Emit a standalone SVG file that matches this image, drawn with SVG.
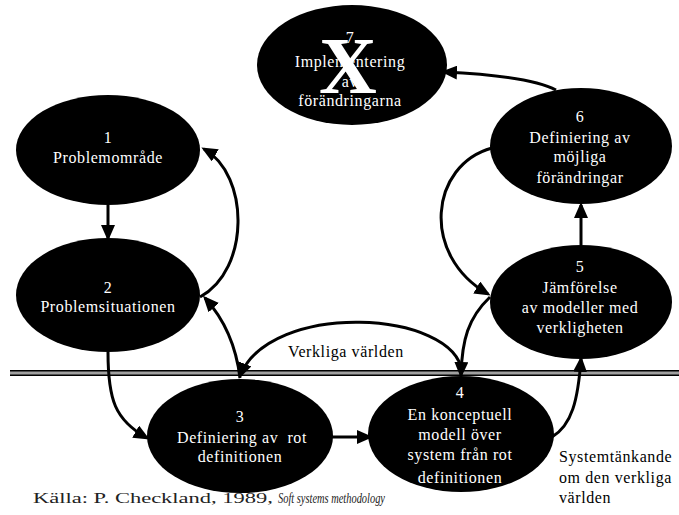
<svg xmlns="http://www.w3.org/2000/svg" width="679" height="515" viewBox="0 0 679 515">
  <style>
    .node { fill: #000; }
    .lbl { font-size: 16px; letter-spacing: 0.6px; fill: #fff; text-anchor: middle; }
    .side { font-size: 16px; letter-spacing: 0.6px; fill: #000; }
    .edge { fill: none; stroke: #000; stroke-width: 3; }
    .cap { font-size: 14px; fill: #222; }
  </style>
  <defs>
    <marker id="arrow" viewBox="0 0 16 14" refX="13" refY="7" markerWidth="16" markerHeight="14" markerUnits="userSpaceOnUse" orient="auto">
      <path d="M0,0 L16,7 L0,14 z" fill="#000"/>
    </marker>
  </defs>

  <rect width="679" height="515" fill="#fff"/>

  <!-- boundary between the real world and systems thinking -->
  <g id="boundary">
    <rect x="10" y="370" width="669" height="6" fill="#a0a0a0"/>
    <line x1="10" y1="370.75" x2="679" y2="370.75" stroke="#000" stroke-width="1.5"/>
    <line x1="10" y1="375.25" x2="679" y2="375.25" stroke="#000" stroke-width="1.5"/>
  </g>

  <g id="connectors">
    <path class="edge" d="M108,205 L108,238" marker-end="url(#arrow)"/>
    <path class="edge" d="M200,297 C250,270 250,175 204,149" marker-end="url(#arrow)"/>
    <path class="edge" d="M240,378 C236,345 225,320 205,298" marker-end="url(#arrow)"/>
    <path class="edge" d="M108,352 C108,400 115,420 147,438" marker-end="url(#arrow)"/>
    <path class="edge" d="M331,437 L370,437" marker-end="url(#arrow)"/>
    <path class="edge" d="M462,372 C455,310 270,300 240,376" marker-end="url(#arrow)"/>
    <path class="edge" d="M490,297 C468,318 462,340 461,375" marker-end="url(#arrow)"/>
    <path class="edge" d="M552,437 C572,425 578,400 581,359" marker-end="url(#arrow)"/>
    <path class="edge" d="M581,245 L581,205" marker-end="url(#arrow)"/>
    <path class="edge" d="M492,148 C430,165 420,255 488,294" marker-end="url(#arrow)"/>
    <path class="edge" d="M556,90 Q530,76 444,72" marker-end="url(#arrow)"/>
  </g>

  <g font-family="Liberation Serif, Times New Roman, serif">
    <g id="node1">
      <ellipse class="node" cx="108" cy="150" rx="92" ry="55"/>
      <text class="lbl" x="108" y="143">1</text>
      <text class="lbl" x="108" y="163">Problemområde</text>
    </g>

    <g id="node2">
      <ellipse class="node" cx="108" cy="295" rx="92" ry="57"/>
      <text class="lbl" x="108" y="293">2</text>
      <text class="lbl" x="108" y="312">Problemsituationen</text>
    </g>

    <g id="node3">
      <ellipse class="node" cx="240" cy="436" rx="93" ry="57"/>
      <text class="lbl" x="240" y="422">3</text>
      <text class="lbl" x="242" y="443" xml:space="preserve">Definiering av  rot</text>
      <text class="lbl" x="240" y="462">definitionen</text>
    </g>

    <g id="node4">
      <ellipse class="node" cx="461" cy="434" rx="93" ry="58"/>
      <text class="lbl" x="460" y="398">4</text>
      <text class="lbl" x="460" y="420">En konceptuell</text>
      <text class="lbl" x="460" y="440">modell över</text>
      <text class="lbl" x="460" y="460">system från rot</text>
      <text class="lbl" x="460" y="483">definitionen</text>
    </g>

    <g id="node5">
      <ellipse class="node" cx="581" cy="302" rx="91" ry="57"/>
      <text class="lbl" x="580" y="272">5</text>
      <text class="lbl" x="580" y="293">Jämförelse</text>
      <text class="lbl" x="580" y="313">av modeller med</text>
      <text class="lbl" x="580" y="333">verkligheten</text>
    </g>

    <g id="node6">
      <ellipse class="node" cx="581" cy="146" rx="91" ry="58"/>
      <text class="lbl" x="580" y="122">6</text>
      <text class="lbl" x="580" y="143">Definiering av</text>
      <text class="lbl" x="580" y="162">möjliga</text>
      <text class="lbl" x="580" y="183">förändringar</text>
    </g>

    <g id="node7">
      <ellipse class="node" cx="352" cy="65" rx="95" ry="60"/>
      <text class="lbl" x="350" y="43">7</text>
      <text class="lbl" x="350" y="67">Implementering</text>
      <text class="lbl" x="350" y="87">av</text>
      <text class="lbl" x="350" y="106">förändringarna</text>
      <!-- crossed out -->
      <text x="348" y="93" font-size="80" font-weight="bold" fill="#fff" text-anchor="middle">X</text>
    </g>

    <g id="labels">
      <text class="side" x="288" y="357">Verkliga världen</text>
      <text class="side" x="559" y="462">Systemtänkande</text>
      <text class="side" x="559" y="483">om den verkliga</text>
      <text class="side" x="559" y="503">världen</text>
    </g>

    <g id="caption">
      <text class="cap" x="33" y="503" textLength="240" lengthAdjust="spacingAndGlyphs">Källa: P. Checkland, 1989,</text>
      <text class="cap" x="278" y="503" font-style="italic" textLength="107" lengthAdjust="spacingAndGlyphs">Soft systems methodology</text>
    </g>
  </g>
</svg>
